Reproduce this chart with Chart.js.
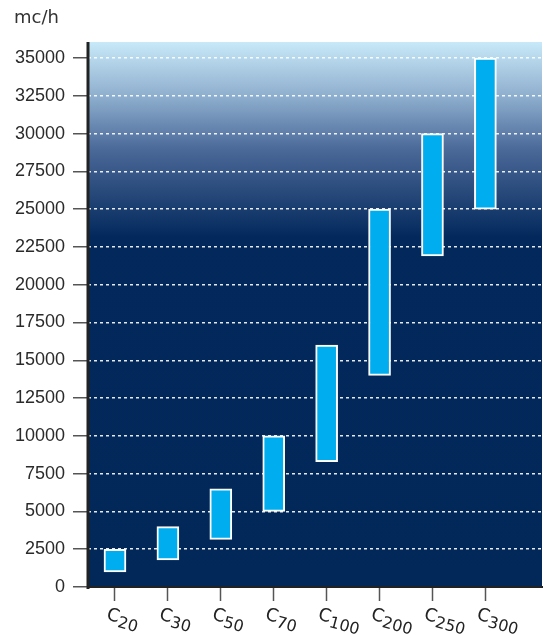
<!DOCTYPE html>
<html>
<head>
<meta charset="utf-8">
<script src="https://cdn.jsdelivr.net/npm/chart.js@4/dist/chart.umd.min.js"></script>
<style>
  html, body { margin: 0; padding: 0; background: #fff; }
  #wrap { width: 547px; height: 634px; }
</style>
</head>
<body>
<div id="wrap"><canvas id="myChart"></canvas></div>
<script>
const models = ["C20", "C30", "C50", "C70", "C100", "C200", "C250", "C300"];
const flowMin = [1000, 1800, 3150, 5000, 8300, 14000, 21900, 25000];
const flowMax = [2500, 4000, 6500, 10000, 16000, 25000, 30000, 35000];
const unit = "mc/h";

const points = [];
for (let i = 0; i < models.length; i++) {
  points.push({ x: i, y: [flowMin[i], flowMax[i]] });
}

// sfondo sfumato dell'area del grafico
const bgPlugin = {
  id: 'bg',
  beforeDraw(chart) {
    const a = chart.chartArea;
    const ctx = chart.ctx;
    const g = ctx.createLinearGradient(0, a.top, 0, a.bottom);
    const h = a.bottom - a.top;
    g.addColorStop(0, '#c8e9f8');
    g.addColorStop(58 / h, '#8aaacb');
    g.addColorStop(108 / h, '#4a6898');
    g.addColorStop(195 / h, '#03295c');
    g.addColorStop(1, '#02285a');
    ctx.save();
    ctx.fillStyle = g;
    ctx.fillRect(a.left, a.top, a.right - a.left, h);
    ctx.restore();
  }
};

// asse sinistro, unità e etichette con pedice
const decoPlugin = {
  id: 'deco',
  afterDraw(chart) {
    const a = chart.chartArea;
    const ctx = chart.ctx;
    ctx.save();
    ctx.strokeStyle = '#222';
    ctx.lineWidth = 3;
    ctx.beginPath();
    ctx.moveTo(a.left, a.top);
    ctx.lineTo(a.left, a.bottom + 2);
    ctx.stroke();

    ctx.fillStyle = '#333';
    ctx.font = '18px "DejaVu Sans"';
    ctx.textBaseline = 'alphabetic';
    ctx.fillText(unit, 14, 23);

    const xs = chart.scales.x;
    ctx.fillStyle = '#222';
    for (let i = 0; i < models.length; i++) {
      const px = xs.getPixelForValue(i);
      const letter = models[i].charAt(0);
      const num = models[i].slice(1);
      ctx.save();
      ctx.translate(px - 6, 607);
      ctx.rotate(15 * Math.PI / 180);
      ctx.textBaseline = 'top';
      ctx.font = '18px "DejaVu Sans"';
      ctx.fillText(letter, 0, -1);
      const w = ctx.measureText(letter).width;
      ctx.font = '16px "DejaVu Sans"';
      ctx.fillText(num, w, 5);
      ctx.restore();
    }
    ctx.restore();
  }
};

const config = {
  type: 'bar',
  data: {
    datasets: [{
      data: points,
      backgroundColor: '#00aeef',
      borderColor: '#ffffff',
      borderWidth: 2,
      borderSkipped: false,
      barThickness: 22
    }]
  },
  options: {
    responsive: false,
    animation: false,
    layout: { padding: { top: 42, right: 5, bottom: 0, left: 0 } },
    plugins: { legend: { display: false }, tooltip: { enabled: false } },
    scales: {
      x: {
        type: 'linear',
        offset: false,
        min: -0.51,
        max: 8.07,
        afterBuildTicks: scale => {
          scale.ticks = models.map((m, i) => ({ value: i }));
        },
        afterFit: scale => { scale.height = 47; },
        ticks: { callback: () => '', padding: 0 },
        grid: {
          offset: false,
          drawOnChartArea: false,
          tickLength: 14,
          tickColor: '#555',
          tickWidth: 1.5
        },
        border: { color: '#222', width: 2 }
      },
      y: {
        min: 0,
        max: 36060,
        afterBuildTicks: scale => {
          const t = [];
          for (let v = 0; v <= 35000; v += 2500) t.push({ value: v });
          scale.ticks = t;
        },
        afterFit: scale => { scale.width = 88; },
        ticks: {
          color: '#2a2a2a',
          padding: 8,
          font: { family: 'Liberation Sans', size: 18 },
          callback: v => String(v)
        },
        grid: {
          color: c => (c.tick && c.tick.value === 0) ? 'rgba(0,0,0,0)' : 'rgba(255,255,255,0.9)',
          lineWidth: 1.5,
          borderDash: [3, 3],
          tickLength: 15,
          tickColor: '#555',
          tickWidth: 1.5,
          tickBorderDash: []
        },
        border: { display: false, dash: [3, 3] }
      }
    }
  },
  plugins: [bgPlugin, decoPlugin]
};

const canvas = document.getElementById('myChart');
canvas.width = 547;
canvas.height = 634;
let myChart = new Chart(canvas, config);
</script>
</body>
</html>
